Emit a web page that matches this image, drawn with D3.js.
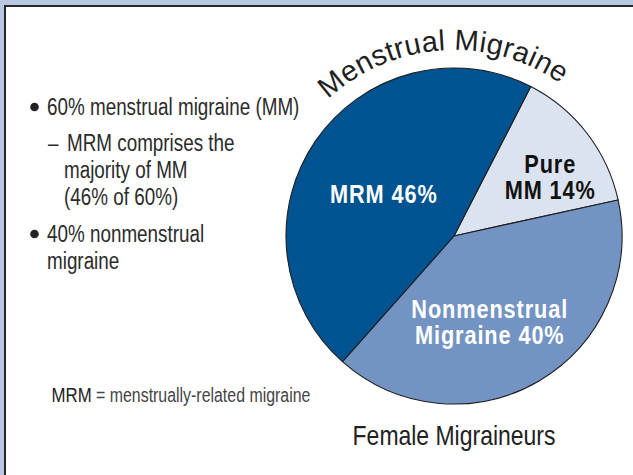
<!DOCTYPE html>
<html>
<head>
<meta charset="utf-8">
<script src="https://cdn.jsdelivr.net/npm/d3@7"></script>
<style>
  html, body { margin: 0; padding: 0; background: #fff; }
  svg { display: block; }
  text { font-family: "Liberation Sans", Arial, sans-serif; }
</style>
</head>
<body>
<div id="chart"></div>
<script>
// slice data, clockwise from the Pure MM wedge
const categories = ["Pure MM", "Nonmenstrual Migraine", "MRM"];
const shares = [14, 40, 46];
const labelLines = [["Pure", "MM 14%"], ["Nonmenstrual", "Migraine 40%"], ["MRM 46%"]];
const sliceColors = ["#dce3f0", "#7394c3", "#005391"];
const labelColors = ["#111", "#fff", "#fff"];

const arcTitle = "Menstrual Migraine";
const chartTitle = "Female Migraineurs";
const bulletItems = [
    {type: "bullet", lines: ["60% menstrual migraine (MM)"]},
    {type: "dash", lines: ["MRM comprises the", "majority of MM", "(46% of 60%)"]},
    {type: "bullet", lines: ["40% nonmenstrual", "migraine"]}
];
const footAbbr = "MRM";
const footText = " = menstrually-related migraine";

const width = 633, height = 475;
const cx = 454, cy = 236, radius = 168;
const startDeg = 27.2;
// no condensed face installed, so squeeze the regular one
const narrow = 0.82;

// label placement: centroid at 0.55r plus a small nudge per slice
const labelNudge = [[23, -3], [-11, 6], [6, 10]];

const svg = d3.select("#chart").append("svg")
    .attr("width", width)
    .attr("height", height);

function narrowText(parent, x, y, size, str) {
    return parent.append("text")
        .attr("transform", `translate(${x}, ${y}) scale(${narrow}, 1)`)
        .attr("font-size", size)
        .text(str);
}

// frame
svg.append("rect")
    .attr("width", width)
    .attr("height", height)
    .attr("fill", "#b9c7e3");

svg.append("rect")
    .attr("x", 5)
    .attr("y", 6)
    .attr("width", width + 20)
    .attr("height", height + 20)
    .attr("fill", "#fff")
    .attr("stroke", "#262626")
    .attr("stroke-width", 2);

// pie
const start = startDeg * Math.PI / 180;
const pie = d3.pie()
    .sort(null)
    .value(d => d)
    .startAngle(start)
    .endAngle(start + 2 * Math.PI);

const arcs = pie(shares);

const arc = d3.arc().innerRadius(0).outerRadius(radius);
const labelArc = d3.arc().innerRadius(radius * 0.55).outerRadius(radius * 0.55);

const g = svg.append("g")
    .attr("transform", `translate(${cx}, ${cy})`);

g.selectAll("path.slice")
    .data(arcs)
    .join("path")
    .attr("class", "slice")
    .attr("d", arc)
    .attr("fill", (d, i) => sliceColors[i])
    .attr("stroke", "#1e1e1e")
    .attr("stroke-width", 1.1)
    .attr("stroke-linejoin", "round");

const lineH = 26.5;
g.selectAll("g.slice-label")
    .data(arcs)
    .join("g")
    .attr("class", "slice-label")
    .each(function(d, i) {
        const [x, y] = labelArc.centroid(d);
        const lines = labelLines[i];
        const nx = x + labelNudge[i][0];
        const ny = y + labelNudge[i][1];
        const top = ny - (lines.length - 1) * lineH / 2 + 9.5;
        const lab = d3.select(this)
            .attr("transform", `translate(${nx}, ${top}) scale(${narrow}, 1)`);
        lines.forEach((l, j) => {
            lab.append("text")
                .attr("y", j * lineH)
                .attr("text-anchor", "middle")
                .attr("font-weight", "bold")
                .attr("font-size", 26.5)
                .attr("letter-spacing", 1.1)
                .attr("fill", labelColors[i])
                .text(l);
        });
    });

// curved title over the pie
const titleR = 186;
const titleMid = -3.8 * Math.PI / 180;
const span = 80 * Math.PI / 180;
const titleArc = d3.path();
titleArc.arc(0, 0, titleR, titleMid - span - Math.PI / 2, titleMid + span - Math.PI / 2, false);

g.append("path")
    .attr("id", "title-arc")
    .attr("d", titleArc.toString())
    .attr("fill", "none");

g.append("text")
    .attr("font-size", 29)
    .attr("letter-spacing", 0.3)
    .attr("fill", "#1f1f1f")
    .append("textPath")
    .attr("href", "#title-arc")
    .attr("startOffset", "50%")
    .attr("text-anchor", "middle")
    .text(arcTitle);

// bottom title
narrowText(svg, cx, 445, 28, chartTitle)
    .attr("text-anchor", "middle")
    .attr("fill", "#222");

// bullet notes on the left
const notes = svg.append("g").attr("fill", "#2b2b2b");
const noteSize = 23;
const noteLineH = 27;
let y = 115;
bulletItems.forEach((item, k) => {
    if (k > 0) y += (item.type === "bullet" ? 37 : 36) - noteLineH;
    item.lines.forEach((line, j) => {
        if (j === 0 && item.type === "bullet") {
            notes.append("circle")
                .attr("cx", 34.5)
                .attr("cy", y - 8)
                .attr("r", 4.3)
                .attr("fill", "#222");
        }
        if (j === 0 && item.type === "dash") {
            narrowText(notes, 48, y, noteSize, "–");
        }
        const x = item.type === "bullet" ? 47 : (j === 0 ? 67 : 64);
        narrowText(notes, x, y, noteSize, line);
        y += noteLineH;
    });
});

// footnote
const foot = narrowText(svg, 51.5, 401.5, 19.4, "")
    .attr("fill", "#444");
foot.append("tspan").attr("fill", "#222").attr("font-size", 20.5).text(footAbbr);
foot.append("tspan").text(footText);
</script>
</body>
</html>
